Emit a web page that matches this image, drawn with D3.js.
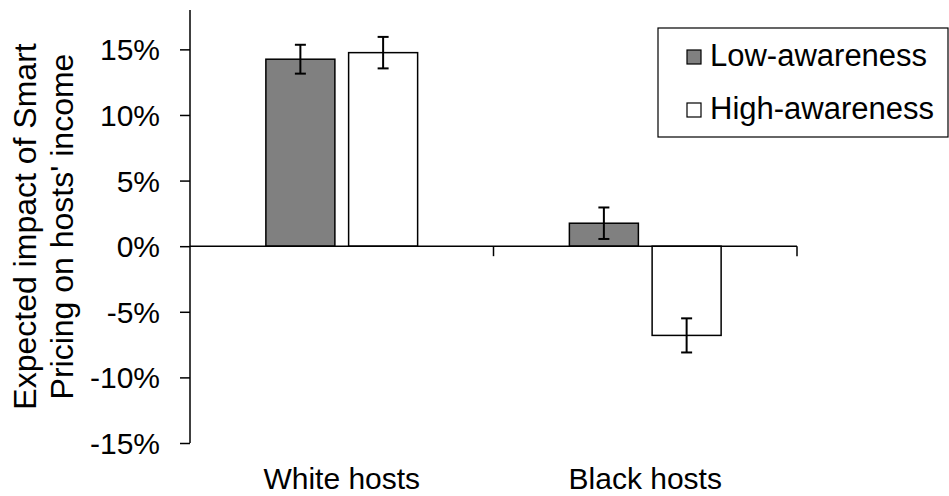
<!DOCTYPE html>
<html>
<head>
<meta charset="utf-8">
<script src="https://cdn.jsdelivr.net/npm/d3@7"></script>
<style>
  html, body { margin: 0; padding: 0; background: #fff; }
  svg { display: block; }
  text { font-family: "Liberation Sans", Arial, sans-serif; fill: #000; }
</style>
</head>
<body>
<svg id="chart" width="949" height="496"></svg>
<script>
// ---- data ----
const categories = ["White hosts", "Black hosts"];
const series = ["Low-awareness", "High-awareness"];
const lowValues = [14.25, 1.75];
const highValues = [14.75, -6.8];
const lowErrors = [1.1, 1.2];
const highErrors = [1.2, 1.3];
const yTicks = [-15, -10, -5, 0, 5, 10, 15];
const yDomain = [-15, 18];

const seriesValues = [lowValues, highValues];
const seriesErrors = [lowErrors, highErrors];
const fills = ["#808080", "#ffffff"];

const svg = d3.select("#chart");
const fontSize = 30;
const titleSize = 32;
const legendSize = 31;

const x0 = d3.scaleBand().domain(categories).range([190, 797]).padding(0);
const bw = x0.bandwidth();
const x1 = d3.scaleBand().domain(series).range([bw * 0.25, bw * 0.75]).paddingInner(0.166).paddingOuter(0);
const y = d3.scaleLinear().domain(yDomain).range([443, 10]);

const rows = [];
categories.forEach((c, ci) => {
  series.forEach((s, si) => {
    rows.push({ c, s, si, v: seriesValues[si][ci], e: seriesErrors[si][ci] });
  });
});

// bars
svg.append("g").selectAll("rect").data(rows).join("rect")
  .attr("x", d => x0(d.c) + x1(d.s))
  .attr("width", x1.bandwidth())
  .attr("y", d => y(Math.max(0, d.v)))
  .attr("height", d => Math.abs(y(d.v) - y(0)))
  .attr("fill", d => fills[d.si])
  .attr("stroke", "#000")
  .attr("stroke-width", 1.5);

// x axis (at zero) with category boundary ticks
const xAxisG = svg.append("g").attr("transform", `translate(0,${y(0)})`);
xAxisG.append("line").attr("x1", x0.range()[0]).attr("x2", x0.range()[1])
  .attr("stroke", "#000").attr("stroke-width", 1.5);
const boundaries = categories.map(c => x0(c) + bw);
xAxisG.selectAll("line.tick").data(boundaries).join("line").attr("class", "tick")
  .attr("x1", d => d).attr("x2", d => d).attr("y1", 0).attr("y2", 10)
  .attr("stroke", "#000").attr("stroke-width", 1.5);

// error bars
const eb = svg.append("g").attr("stroke", "#000").attr("stroke-width", 2);
rows.forEach(d => {
  const cx = x0(d.c) + x1(d.s) + x1.bandwidth() / 2;
  eb.append("line").attr("x1", cx).attr("x2", cx).attr("y1", y(d.v + d.e)).attr("y2", y(d.v - d.e));
  eb.append("line").attr("x1", cx - 5.5).attr("x2", cx + 5.5).attr("y1", y(d.v + d.e)).attr("y2", y(d.v + d.e));
  eb.append("line").attr("x1", cx - 5.5).attr("x2", cx + 5.5).attr("y1", y(d.v - d.e)).attr("y2", y(d.v - d.e));
});

// y axis
const yAxis = d3.axisLeft(y).tickValues(yTicks).tickSize(10).tickPadding(20)
  .tickFormat(d => d + "%");
const yG = svg.append("g").attr("transform", "translate(190,0)").call(yAxis);
yG.select(".domain").attr("d", `M0,${y.range()[1]}V${y.range()[0]}`).attr("stroke-width", 1.5);
yG.selectAll(".tick line").attr("stroke-width", 1.5);
yG.selectAll(".tick text").attr("font-size", fontSize)
  .attr("font-family", "'Liberation Sans', Arial, sans-serif").attr("fill", "#000")
  .attr("dy", "0.35em");

// x category labels
svg.append("g").selectAll("text").data(categories).join("text")
  .attr("x", d => x0(d) + bw / 2)
  .attr("y", 489)
  .attr("text-anchor", "middle")
  .attr("font-size", fontSize)
  .text(d => d);

// y axis title
const yTitle = ["Expected impact of Smart", "Pricing on hosts' income"];
const tg = svg.append("g").attr("transform", `translate(0,${(y.range()[0] + y.range()[1]) / 2}) rotate(-90)`);
tg.selectAll("text").data(yTitle).join("text")
  .attr("x", 0)
  .attr("y", (d, i) => 36 + i * 37)
  .attr("text-anchor", "middle")
  .attr("font-size", titleSize)
  .text(d => d);

// legend
const lg = svg.append("g");
lg.append("rect").attr("x", 658).attr("y", 28).attr("width", 290).attr("height", 109)
  .attr("fill", "#fff").attr("stroke", "#000").attr("stroke-width", 1.2);
const legendY = [57, 110];
series.forEach((s, i) => {
  lg.append("rect").attr("x", 687).attr("y", legendY[i] - 7).attr("width", 14).attr("height", 14)
    .attr("fill", fills[i]).attr("stroke", "#000").attr("stroke-width", 1.2);
  lg.append("text").attr("x", 710).attr("y", legendY[i] + 9)
    .attr("font-size", legendSize).text(s);
});
</script>
</body>
</html>
